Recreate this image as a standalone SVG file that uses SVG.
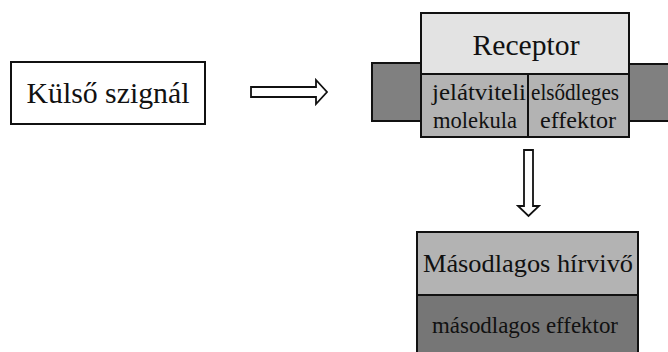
<svg xmlns="http://www.w3.org/2000/svg" width="668" height="352" viewBox="0 0 668 352" xml:lang="hu">
<style>
.b{stroke:#111;stroke-width:2}
.arr{fill:#fff;stroke:#111;stroke-width:1.8;stroke-linejoin:miter}
</style>
<rect width="668" height="352" fill="#fff"/>
<g id="kulso">
<rect class="b" x="11" y="62" width="194" height="62" fill="#fff"/>
<text x="108" y="103" font-family="Liberation Serif, serif" font-size="30" fill="#111" text-anchor="middle" textLength="163" lengthAdjust="spacingAndGlyphs">Külső szignál</text>
</g>
<g id="receptor">
<rect class="b" x="372" y="63" width="49" height="58" fill="#808080"/>
<rect class="b" x="629" y="64" width="45" height="57" fill="#808080"/>
<rect class="b" x="421" y="13" width="208" height="61" fill="#e3e3e3"/>
<text x="526" y="55" font-family="Liberation Serif, serif" font-size="30" fill="#111" text-anchor="middle" textLength="107" lengthAdjust="spacingAndGlyphs">Receptor</text>
<rect class="b" x="421" y="74" width="107" height="63" fill="#b3b3b3"/>
<rect class="b" x="528" y="74" width="101" height="63" fill="#b3b3b3"/>
<text x="479" y="100" font-family="Liberation Serif, serif" font-size="23" fill="#111" text-anchor="middle" textLength="94" lengthAdjust="spacingAndGlyphs">jelátviteli</text>
<text x="475" y="128" font-family="Liberation Serif, serif" font-size="23" fill="#111" text-anchor="middle" textLength="84" lengthAdjust="spacingAndGlyphs">molekula</text>
<text x="575" y="100" font-family="Liberation Serif, serif" font-size="23" fill="#111" text-anchor="middle" textLength="88" lengthAdjust="spacingAndGlyphs">elsődleges</text>
<text x="578" y="128" font-family="Liberation Serif, serif" font-size="23" fill="#111" text-anchor="middle" textLength="76" lengthAdjust="spacingAndGlyphs">effektor</text>
</g>
<g id="masodlagos">
<rect class="b" x="417" y="232" width="221" height="63" fill="#b3b3b3"/>
<rect class="b" x="417" y="295" width="221" height="70" fill="#767676"/>
<text x="528" y="272" font-family="Liberation Serif, serif" font-size="26" fill="#111" text-anchor="middle" textLength="210" lengthAdjust="spacingAndGlyphs">Másodlagos  hírvivő</text>
<text x="525" y="333" font-family="Liberation Serif, serif" font-size="23" fill="#111" text-anchor="middle" textLength="186" lengthAdjust="spacingAndGlyphs">másodlagos  effektor</text>
</g>
<g id="connectors">
<polygon class="arr" points="251,87 316,87 316,80 327,92 316,104 316,97 251,97"/>
<polygon class="arr" points="524,150 533,150 533,206 539,206 528.5,216 518,206 524,206"/>
</g>
</svg>
